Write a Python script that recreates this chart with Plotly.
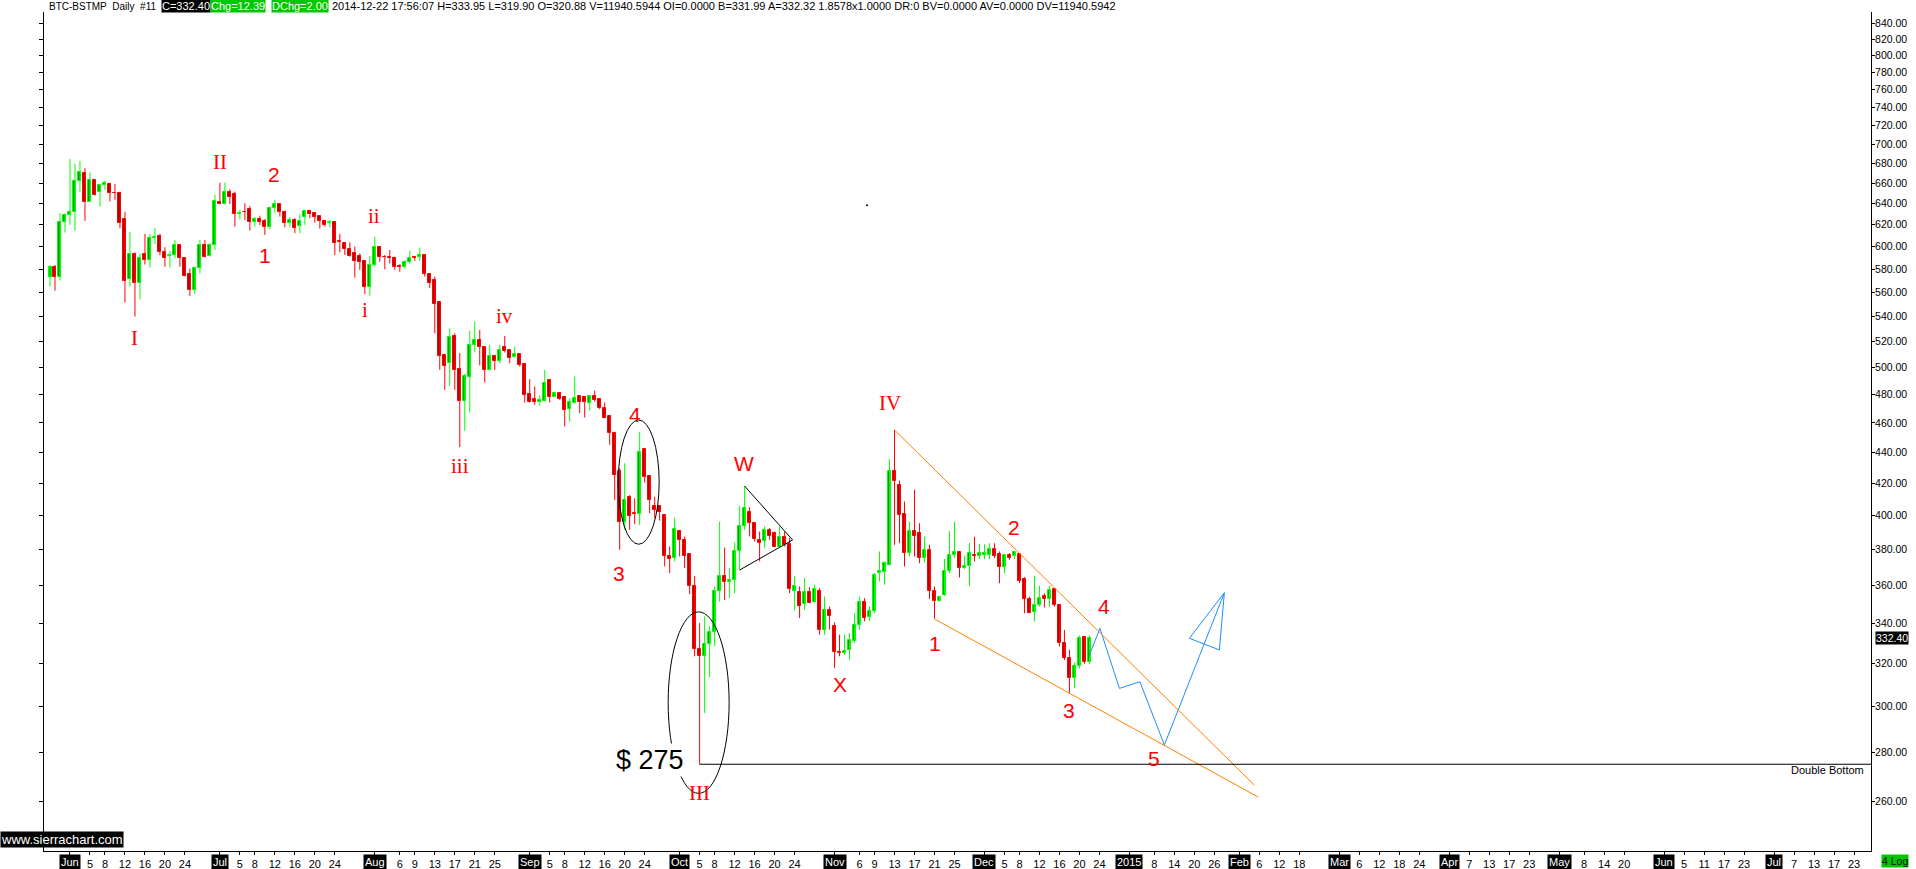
import math
import pandas as pd
import plotly.graph_objects as go

# ---------------- data ----------------
first_date = "2014-05-28"

opens = [573.4, 581.4, 573.4, 622.3, 629.1, 631.9, 662.5, 670.0, 641.5, 663.1,
         651.8, 658.0, 659.3, 650.2, 650.1, 625.2, 571.1, 592.9, 567.8, 592.9,
         587.9, 607.5, 609.3, 594.8, 591.5, 592.4, 601.1, 589.4, 575.4, 562.0,
         580.8, 601.1, 591.5, 601.1, 641.8, 639.5, 651.8, 649.1, 629.7, 632.5,
         634.7, 623.0, 625.2, 623.6, 617.7, 636.3, 639.8, 632.5, 622.0, 624.6,
         618.9, 626.9, 633.5, 630.9, 628.5, 623.6, 621.4, 622.7, 605.0, 603.5,
         597.8, 594.2, 591.5, 586.7, 564.9, 583.5, 600.0, 590.9, 590.3, 589.7,
         582.9, 582.0, 586.4, 590.3, 590.3, 592.1, 575.4, 570.6, 552.2, 509.6,
         503.3, 524.4, 499.1, 475.7, 492.8, 516.9, 520.8, 515.6, 497.8, 508.8,
         504.6, 515.6, 513.5, 508.3, 510.1, 502.6, 480.6, 476.9, 475.0, 475.7,
         490.8, 478.6, 481.1, 478.6, 469.6, 474.3, 479.1, 478.6, 473.8, 479.1,
         476.7, 470.3, 464.9, 452.8, 428.1, 396.4, 411.6, 401.4, 400.8, 442.0,
         424.6, 405.9, 405.9, 400.4, 376.1, 375.2, 390.9, 385.7, 377.6, 359.5,
         327.1, 323.6, 329.6, 335.6, 356.8, 365.0, 361.7, 363.1, 379.3, 393.9,
         402.4, 395.4, 385.7, 384.7, 391.5, 389.9, 381.8, 387.6, 383.4, 357.3,
         356.3, 350.2, 356.3, 351.4, 357.3, 336.8, 347.1, 338.8, 325.5, 325.2,
         326.8, 331.0, 339.3, 351.4, 343.3, 346.7, 366.8, 367.2, 371.4, 428.1,
         419.0, 401.0, 378.0, 390.8, 389.5, 375.2, 379.9, 357.3, 351.9, 354.9,
         368.1, 377.1, 378.4, 369.6, 370.5, 377.1, 376.5, 377.1, 377.1, 380.3,
         377.6, 370.1, 377.1, 376.1, 377.4, 363.5, 352.8, 345.8, 349.5, 354.4,
         352.6, 358.0, 349.7, 330.0, 322.7, 313.4, 319.1, 332.9, 320.88]

highs = [583.5, 583.5, 630.9, 630.9, 684.6, 679.7, 682.6, 675.2, 671.0, 663.1,
         658.0, 662.8, 660.6, 659.3, 651.8, 632.2, 613.4, 594.8, 593.9, 611.6,
         611.6, 616.7, 611.6, 599.4, 596.0, 605.9, 602.0, 589.4, 580.5, 582.0,
         605.9, 605.9, 602.9, 648.6, 660.6, 660.6, 654.0, 651.8, 634.1, 640.5,
         637.8, 627.2, 628.5, 625.5, 637.2, 643.8, 639.8, 633.5, 627.2, 626.2,
         630.0, 634.1, 634.1, 631.6, 629.1, 624.6, 624.6, 623.3, 611.6, 604.1,
         603.8, 600.0, 593.9, 587.0, 591.5, 609.0, 600.6, 592.4, 596.9, 590.9,
         584.3, 587.9, 596.3, 591.5, 599.1, 592.1, 575.4, 573.4, 552.2, 510.4,
         530.5, 526.5, 511.0, 495.3, 528.6, 535.9, 529.2, 516.1, 517.4, 509.6,
         517.4, 524.4, 514.0, 516.1, 511.0, 503.3, 491.3, 485.9, 479.3, 498.3,
         491.3, 481.6, 481.6, 479.1, 477.4, 493.3, 479.8, 478.6, 479.8, 483.0,
         477.4, 474.3, 465.6, 453.9, 429.6, 432.8, 412.6, 410.6, 453.9, 442.7,
         425.3, 411.6, 406.3, 400.4, 381.8, 398.8, 391.5, 387.6, 377.6, 365.3,
         340.2, 343.6, 338.5, 359.5, 396.4, 381.2, 369.6, 384.1, 405.9, 418.3,
         405.1, 395.8, 390.5, 393.5, 392.5, 390.5, 393.5, 390.5, 386.7, 365.0,
         359.5, 364.1, 359.1, 360.4, 358.6, 354.1, 348.8, 340.5, 334.3, 334.3,
         335.1, 345.3, 354.1, 353.2, 348.8, 366.8, 379.0, 373.3, 435.4, 455.1,
         421.7, 408.6, 396.4, 415.9, 395.4, 387.5, 382.8, 359.5, 354.0, 374.8,
         390.8, 396.4, 378.4, 376.5, 383.7, 387.5, 383.3, 383.1, 383.7, 383.7,
         379.0, 377.6, 378.0, 379.0, 378.0, 364.6, 354.0, 365.3, 359.8, 355.8,
         360.0, 358.5, 350.2, 336.7, 326.8, 320.5, 333.9, 333.4, 333.95]

lows = [564.9, 561.4, 570.0, 612.8, 619.9, 614.6, 651.8, 623.6, 641.5, 648.0,
        637.2, 653.4, 642.1, 643.8, 616.7, 551.4, 564.9, 539.9, 554.2, 584.0,
        581.4, 602.3, 592.1, 582.0, 581.4, 589.4, 582.0, 573.7, 557.0, 558.6,
        576.2, 590.3, 590.9, 596.9, 639.5, 639.5, 639.8, 618.3, 625.2, 624.6,
        614.6, 618.3, 619.6, 610.6, 615.8, 630.9, 627.8, 617.7, 617.7, 612.2,
        612.2, 619.9, 626.2, 622.0, 616.4, 618.3, 617.7, 592.4, 594.8, 592.4,
        590.9, 572.5, 579.2, 558.6, 557.3, 582.0, 586.4, 579.8, 584.9, 579.2,
        577.6, 580.5, 584.9, 587.3, 587.3, 573.4, 563.5, 526.5, 498.3, 483.5,
        486.4, 483.5, 443.5, 454.5, 467.2, 511.5, 501.6, 488.8, 497.8, 498.3,
        503.3, 511.5, 503.3, 507.8, 500.8, 474.3, 474.3, 472.7, 472.2, 475.0,
        474.3, 478.6, 476.2, 457.5, 460.9, 473.8, 466.8, 463.7, 468.6, 475.0,
        469.6, 463.2, 445.1, 409.6, 379.9, 391.5, 391.5, 395.0, 394.4, 420.4,
        401.4, 398.5, 397.0, 370.5, 366.8, 373.3, 376.1, 369.6, 355.4, 323.6,
        275.0, 297.1, 313.6, 328.5, 351.4, 352.3, 353.2, 355.9, 368.7, 391.5,
        387.6, 384.7, 373.3, 380.8, 385.7, 381.8, 381.8, 381.8, 355.9, 346.7,
        342.8, 347.1, 350.6, 350.6, 334.3, 334.3, 336.8, 317.9, 323.6, 324.4,
        321.9, 330.1, 336.8, 341.1, 341.1, 345.3, 362.2, 360.4, 370.9, 382.8,
        383.7, 370.5, 376.1, 376.1, 372.3, 372.7, 352.8, 342.4, 351.4, 354.4,
        366.8, 375.2, 364.4, 369.0, 359.5, 373.3, 374.6, 374.6, 374.6, 375.2,
        361.3, 366.8, 374.2, 374.6, 361.3, 345.3, 345.3, 341.0, 348.8, 348.3,
        348.8, 348.8, 328.4, 321.8, 306.1, 308.4, 317.8, 319.9, 319.90]

closes = [581.4, 573.4, 622.3, 629.1, 631.9, 662.5, 671.0, 641.5, 663.1, 648.0,
          658.0, 660.0, 650.1, 650.1, 621.4, 570.0, 592.9, 567.8, 589.4, 587.9,
          607.5, 608.7, 594.8, 589.4, 592.4, 601.1, 589.4, 573.7, 562.0, 580.8,
          601.1, 590.3, 601.1, 642.4, 639.5, 651.8, 647.0, 629.7, 631.6, 631.9,
          623.0, 625.2, 623.0, 617.7, 636.3, 639.5, 631.9, 622.0, 624.6, 617.3,
          623.6, 633.5, 630.0, 627.8, 623.9, 619.6, 623.0, 602.9, 603.8, 597.5,
          591.2, 587.3, 586.4, 564.9, 583.5, 599.4, 590.3, 590.3, 589.4, 582.0,
          582.0, 586.4, 589.4, 589.4, 592.1, 575.4, 567.8, 550.0, 508.8, 500.8,
          523.4, 497.8, 475.7, 493.3, 517.4, 520.8, 515.6, 497.8, 508.8, 504.6,
          513.5, 513.0, 507.2, 510.1, 502.1, 479.8, 475.0, 475.0, 476.2, 488.3,
          478.6, 481.1, 476.7, 469.1, 475.0, 477.4, 475.0, 475.0, 479.1, 476.2,
          470.3, 463.2, 452.9, 425.3, 396.4, 409.6, 399.8, 400.8, 440.5, 424.2,
          409.6, 403.5, 402.4, 376.1, 374.6, 391.9, 385.7, 376.1, 359.9, 327.1,
          323.9, 329.6, 335.6, 356.8, 365.0, 361.7, 363.1, 379.3, 393.9, 404.5,
          395.4, 386.1, 384.1, 391.5, 388.0, 381.8, 387.2, 382.8, 358.1, 359.9,
          349.2, 356.3, 350.9, 358.1, 336.5, 347.1, 343.9, 325.5, 325.2, 326.0,
          331.8, 339.3, 351.4, 342.8, 346.7, 365.9, 367.7, 372.4, 428.0, 421.7,
          400.4, 378.0, 390.8, 388.0, 375.2, 379.9, 357.3, 351.9, 353.7, 368.1,
          377.1, 378.4, 369.6, 370.9, 378.0, 376.5, 378.0, 378.0, 380.3, 376.1,
          370.1, 376.7, 375.2, 378.4, 362.2, 352.6, 345.6, 349.5, 353.1, 352.6,
          357.6, 349.7, 330.0, 322.7, 313.4, 319.1, 332.6, 320.88, 332.40]

future_start, future_end = "2014-12-23", "2015-08-14"

tick_dates = ["2014-06-01", "2014-06-05", "2014-06-08", "2014-06-12", "2014-06-16", "2014-06-20", "2014-06-24",
              "2014-07-01", "2014-07-05", "2014-07-08", "2014-07-12", "2014-07-16", "2014-07-20", "2014-07-24",
              "2014-08-01", "2014-08-06", "2014-08-09", "2014-08-13", "2014-08-17", "2014-08-21", "2014-08-25",
              "2014-09-01", "2014-09-05", "2014-09-08", "2014-09-12", "2014-09-16", "2014-09-20", "2014-09-24",
              "2014-10-01", "2014-10-05", "2014-10-08", "2014-10-12", "2014-10-16", "2014-10-20", "2014-10-24",
              "2014-11-01", "2014-11-06", "2014-11-09", "2014-11-13", "2014-11-17", "2014-11-21", "2014-11-25",
              "2014-12-01", "2014-12-05", "2014-12-08", "2014-12-12", "2014-12-16", "2014-12-20", "2014-12-24",
              "2015-01-01", "2015-01-08", "2015-01-14", "2015-01-20", "2015-01-26",
              "2015-02-01", "2015-02-06", "2015-02-12", "2015-02-18",
              "2015-03-01", "2015-03-06", "2015-03-12", "2015-03-18", "2015-03-24",
              "2015-04-01", "2015-04-07", "2015-04-13", "2015-04-17", "2015-04-23",
              "2015-05-01", "2015-05-08", "2015-05-14", "2015-05-20",
              "2015-06-01", "2015-06-05", "2015-06-11", "2015-06-17", "2015-06-23",
              "2015-07-01", "2015-07-07", "2015-07-13", "2015-07-17", "2015-07-23"]
tick_labels = ["Jun", "5", "8", "12", "16", "20", "24",
               "Jul", "5", "8", "12", "16", "20", "24",
               "Aug", "6", "9", "13", "17", "21", "25",
               "Sep", "5", "8", "12", "16", "20", "24",
               "Oct", "5", "8", "12", "16", "20", "24",
               "Nov", "6", "9", "13", "17", "21", "25",
               "Dec", "5", "8", "12", "16", "20", "24",
               "2015", "8", "14", "20", "26",
               "Feb", "6", "12", "18",
               "Mar", "6", "12", "18", "24",
               "Apr", "7", "13", "17", "23",
               "May", "8", "14", "20",
               "Jun", "5", "11", "17", "23",
               "Jul", "7", "13", "17", "23"]
boxed_labels = {"Jun", "Jul", "Aug", "Sep", "Oct", "Nov", "Dec", "2015", "Feb", "Mar", "Apr", "May"}

price_ticks = list(range(260, 841, 20))
price_min, price_max = 241.3, 854.4
x_min, x_max = -1.2, 364.4
last_price = 332.40

# Elliott wave labels: (text, bar position, price, serif?)
wave_text = ["I", "II", "1", "2", "i", "ii", "iii", "iv", "3", "4", "W", "III", "X", "IV", "1", "2", "3", "4", "5"]
wave_x = [16.9, 34, 43, 44.9, 63, 64.9, 82, 90.9, 113.9, 117, 138.9, 129.9, 158, 168, 177, 192.9, 203.9, 210.9, 221]
wave_p = [523.0, 681.9, 592.4, 669.0, 545.3, 628.3, 431.0, 540.4, 366.7, 465.8, 432.7, 263.2, 309.9, 474.2,
          330.0, 392.8, 298.4, 348.7, 277.6]
wave_serif = [True, True, False, False, True, True, True, True, False, False, False, True, False, True,
              False, False, False, False, False]

# drawings
tri_x = [139, 148.6, 138]
tri_p = [418.2, 385.6, 368.5]
upper_line_x = [169, 241]
upper_line_p = [455.1, 266.5]
lower_line_x = [177, 241.8]
lower_line_p = [342.3, 261.7]
blue_x = [208, 210.1, 214, 218.1, 223, 235, 228, 234, 235]
blue_p = [324.2, 337.5, 308.3, 311.4, 283.1, 356.1, 332.5, 326.7, 356.1]
ellipse1 = (113.7, 121.9, 383.1, 462.0)
ellipse2 = (123.7, 135.9, 263.2, 346.0)
support_price = 275.0
support_start = 130

header_plain = "BTC-BSTMP\u00a0\u00a0Daily\u00a0\u00a0#11"
header_close = "C=332.40"
header_chg = "Chg=12.39"
header_dchg = "DChg=2.00"
header_rest = ("2014-12-22 17:56:07 H=333.95 L=319.90 O=320.88 V=11940.5944 OI=0.0000 "
               "B=331.99 A=332.32 1.8578x1.0000 DR:0 BV=0.0000 AV=0.0000 DV=11940.5942")

# ---------------- build ----------------
n = len(opens)
bar_dates = pd.date_range(first_date, periods=n, freq="D")
future_dates = pd.bdate_range(future_start, future_end)
all_dates = list(bar_dates) + list(future_dates)
index_of = {d.strftime("%Y-%m-%d"): i for i, d in enumerate(all_dates)}


def xi(day):
    d = pd.Timestamp(day)
    while d.strftime("%Y-%m-%d") not in index_of:
        d += pd.Timedelta(days=1)
    return index_of[d.strftime("%Y-%m-%d")]


xs = list(range(n))
W, H = 1916, 869
ML, MR, MT, MB = 44, 45, 12, 18
plot_w, plot_h = W - ML - MR, H - MT - MB


def px_x(p):
    return (p - ML) / plot_w


def px_y(p):
    return (H - MB - p) / plot_h


LBL = "Liberation Sans, Arial, sans-serif"
SERIF = "Liberation Serif, Times New Roman, serif"

fig = go.Figure()

for up, lc, fc in [(True, "#00ff00", "#009a00"), (False, "#ff0000", "#a00000")]:
    idx = [i for i in xs if (closes[i] >= opens[i]) == up]
    wx, wy = [], []
    for i in idx:
        wx += [i, i, None]
        wy += [lows[i], highs[i], None]
    fig.add_trace(go.Scatter(x=wx, y=wy, mode="lines", line=dict(color=lc, width=1),
                             hoverinfo="skip", showlegend=False))
    base = [min(opens[i], closes[i]) for i in idx]
    size = [max(abs(closes[i] - opens[i]), 0.35) for i in idx]
    fig.add_trace(go.Bar(x=idx, y=size, base=base, width=0.6,
                         marker=dict(color=fc, line=dict(color=lc, width=1)),
                         showlegend=False, hoverinfo="skip"))

# stray dot
fig.add_trace(go.Scatter(x=[163.5], y=[638.5], mode="markers", marker=dict(size=2, color="black"),
                         showlegend=False, hoverinfo="skip"))

shapes = []
shapes.append(dict(type="line", xref="x", yref="y", x0=tri_x[0], y0=tri_p[0], x1=tri_x[1], y1=tri_p[1],
                   line=dict(color="black", width=1)))
shapes.append(dict(type="line", xref="x", yref="y", x0=tri_x[2], y0=tri_p[2], x1=tri_x[1], y1=tri_p[1],
                   line=dict(color="black", width=1)))
shapes.append(dict(type="line", xref="x", yref="y", x0=upper_line_x[0], y0=upper_line_p[0],
                   x1=upper_line_x[1], y1=upper_line_p[1], line=dict(color="#ff8000", width=1)))
shapes.append(dict(type="line", xref="x", yref="y", x0=lower_line_x[0], y0=lower_line_p[0],
                   x1=lower_line_x[1], y1=lower_line_p[1], line=dict(color="#ff8000", width=1)))
shapes.append(dict(type="line", xref="x", yref="y", x0=support_start, y0=support_price,
                   x1=x_max, y1=support_price, line=dict(color="black", width=1)))
for (a, b, c, d) in [ellipse1, ellipse2]:
    shapes.append(dict(type="circle", xref="x", yref="y", x0=a, x1=b, y0=c, y1=d,
                       line=dict(color="black", width=1)))

fig.add_trace(go.Scatter(x=blue_x, y=blue_p, mode="lines", line=dict(color="#1e8cff", width=1),
                         showlegend=False, hoverinfo="skip"))

ann = []
for t, x, p, s in zip(wave_text, wave_x, wave_p, wave_serif):
    ann.append(dict(x=x, y=math.log10(p), xref="x", yref="y", text=t, showarrow=False,
                    xanchor="center", yanchor="middle",
                    font=dict(family=SERIF if s else LBL, size=21, color="#ff0000")))

ann.append(dict(x=120, y=math.log10(276.8), xref="x", yref="y", text="$ 275", showarrow=False,
                xanchor="center", yanchor="middle",
                font=dict(family=LBL, size=27, color="black"), bgcolor="white"))
ann.append(dict(x=1, y=math.log10(272.6), xref="paper", yref="y", xshift=-5, text="Double Bottom",
                showarrow=False, xanchor="right", yanchor="middle",
                font=dict(family=LBL, size=11, color="black")))

for d, t in zip(tick_dates, tick_labels):
    if t in boxed_labels:
        ann.append(dict(x=xi(d), y=px_y(862), xref="x", yref="paper", text=t, showarrow=False,
                        xanchor="center", yanchor="middle",
                        font=dict(family=LBL, size=11, color="white"), bgcolor="black", borderpad=1))

ann.append(dict(x=1, y=math.log10(last_price), xref="paper", yref="y", xshift=4, xanchor="left",
                yanchor="middle", text=f"{last_price:.2f}", showarrow=False, bgcolor="black",
                font=dict(family=LBL, size=10.5, color="white"), borderpad=0))
ann.append(dict(x=1, y=px_y(861), xref="paper", yref="paper", xshift=10, xanchor="left",
                yanchor="middle", text="4 Log", showarrow=False, bgcolor="#00c800",
                font=dict(family=LBL, size=10.5, color="black"), borderpad=0))
ann.append(dict(x=px_x(0), y=px_y(839.5), xref="paper", yref="paper", xanchor="left", yanchor="middle",
                text="www.sierrachart.com", showarrow=False, bgcolor="black",
                font=dict(family=LBL, size=13, color="white"), borderpad=0))
hy = px_y(6)
ann.append(dict(x=px_x(48), y=hy, xref="paper", yref="paper", xanchor="left", yanchor="middle",
                text=header_plain, showarrow=False,
                font=dict(family=LBL, size=10, color="black"), borderpad=0))
ann.append(dict(x=px_x(161), y=hy, xref="paper", yref="paper", xanchor="left", yanchor="middle",
                text=header_close, showarrow=False, bgcolor="black",
                font=dict(family=LBL, size=11, color="white"), borderpad=0))
ann.append(dict(x=px_x(210), y=hy, xref="paper", yref="paper", xanchor="left", yanchor="middle",
                text=header_chg, showarrow=False, bgcolor="#00c800",
                font=dict(family=LBL, size=11, color="white"), borderpad=0))
ann.append(dict(x=px_x(271), y=hy, xref="paper", yref="paper", xanchor="left", yanchor="middle",
                text=header_dchg, showarrow=False, bgcolor="#00c800",
                font=dict(family=LBL, size=11, color="white"), borderpad=0))
ann.append(dict(x=px_x(331), y=hy, xref="paper", yref="paper", xanchor="left", yanchor="middle",
                text=header_rest, showarrow=False,
                font=dict(family=LBL, size=11, color="black"), borderpad=0))

tickvals = [xi(d) for d in tick_dates]
ticktext = ["" if t in boxed_labels else t for t in tick_labels]

yr = [math.log10(price_min), math.log10(price_max)]
fig.update_layout(
    width=W, height=H,
    margin=dict(l=ML, r=MR, t=MT, b=MB, pad=0, autoexpand=False),
    paper_bgcolor="white", plot_bgcolor="white",
    barmode="overlay", bargap=0,
    showlegend=False,
    shapes=shapes, annotations=ann,
    font=dict(family=LBL, size=11, color="black"),
    xaxis=dict(range=[x_min, x_max], tickvals=tickvals, ticktext=ticktext, showgrid=False,
               zeroline=False, showline=True, linecolor="black", linewidth=1, ticks="outside",
               ticklen=3, tickcolor="black", tickfont=dict(family=LBL, size=11, color="black"),
               fixedrange=True, automargin=False),
    yaxis=dict(type="log", range=yr, side="right", tickvals=price_ticks,
               ticktext=[f"{v:.2f}" for v in price_ticks], showgrid=False, zeroline=False,
               showline=True, linecolor="black", linewidth=1, ticks="outside", ticklen=3,
               tickcolor="black", tickfont=dict(family=LBL, size=10.5, color="black"),
               ticklabelstandoff=-2, fixedrange=True, automargin=False),
    yaxis2=dict(type="log", range=yr, side="left", overlaying="y", tickvals=price_ticks,
                showticklabels=False, showgrid=False, zeroline=False, showline=True,
                linecolor="black", linewidth=1, ticks="outside", ticklen=4, tickcolor="black",
                fixedrange=True, automargin=False),
)
fig.add_trace(go.Scatter(x=[None], y=[None], yaxis="y2", showlegend=False, hoverinfo="skip"))

fig.write_html("out.html", config={"displayModeBar": False},
               post_script="document.body.style.margin='0';document.body.style.overflow='hidden';")
